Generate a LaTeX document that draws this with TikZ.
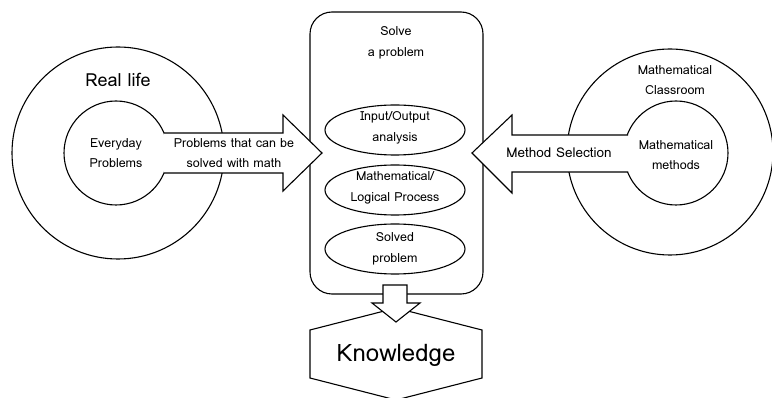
\documentclass[tikz,border=0pt]{standalone}
\usepackage{fontspec}
\setmainfont{Loma}
\usetikzlibrary{shapes.geometric}
\begin{document}
\begin{tikzpicture}[x=1pt,y=-1pt,line width=1.1pt,
  txt/.style={align=center,font=\fontsize{12.5}{20.5}\selectfont},
  bigtxt/.style={font=\fontsize{18}{20}\selectfont},
  shapefill/.style={draw=black,fill=white},
  ell/.style={draw,ellipse,minimum width=140pt,minimum height=50pt,inner sep=0pt}]
\useasboundingbox (0,0) rectangle (772,398);
\fill[white] (0,0) rectangle (772,398);
% left circles
\node[draw,circle,minimum size=212pt,inner sep=0pt] (outerL) at (118,153) {};
\node[draw,circle,minimum size=104pt,inner sep=0pt,fill=white] (innerL) at (116,153) {};
\node[bigtxt] (reallife) at (118,80) {Real life};
\node[txt] (everyday) at (116,153) {Everyday\\Problems};
% right circles
\node[draw,circle,minimum size=206pt,inner sep=0pt] (outerR) at (670,152) {};
\node[draw,circle,minimum size=104pt,inner sep=0pt,fill=white] (innerR) at (676,153) {};
\node[txt] (classroom) at (675,80) {Mathematical\\Classroom};
\node[txt] (methods) at (676,155) {Mathematical\\methods};
% central box
\draw[rounded corners=22pt] (310,12) rectangle (483,294);
\node[txt] (solve) at (396,43) {Solve\\a problem};
\node[ell] (e1) at (395,130) {};
\node[txt] (t1) at (395,128) {Input/Output\\analysis};
\node[ell] (e2) at (395,190) {};
\node[txt] (t2) at (395,188) {Mathematical/\\Logical Process};
\node[ell] (e3) at (395,249) {};
\node[txt] (t3) at (395,249) {Solved\\problem};
% left block arrow
\filldraw[shapefill] (164,133) -- (283,133) -- (283,115) -- (322,153) -- (283,191) -- (283,173) -- (164,173);
\node[txt] (probs) at (234,153) {Problems that can be\\solved with math};
% right block arrow
\filldraw[shapefill] (628,135) -- (512,135) -- (512,115) -- (472,153) -- (512,193) -- (512,172) -- (628,172);
\node[font=\fontsize{13.5}{16}\selectfont] (method) at (559,153) {Method Selection};
% hexagon
\filldraw[shapefill] (310,330) -- (396,308) -- (482,330) -- (482,378) -- (396,400) -- (310,378) -- cycle;
\node[font=\fontsize{24}{26}\selectfont] (know) at (396,355) {Knowledge};
% down block arrow
\filldraw[shapefill] (383,285) -- (407,285) -- (407,303) -- (420,303) -- (396,322) -- (372,303) -- (383,303) -- cycle;
\end{tikzpicture}
\end{document}
